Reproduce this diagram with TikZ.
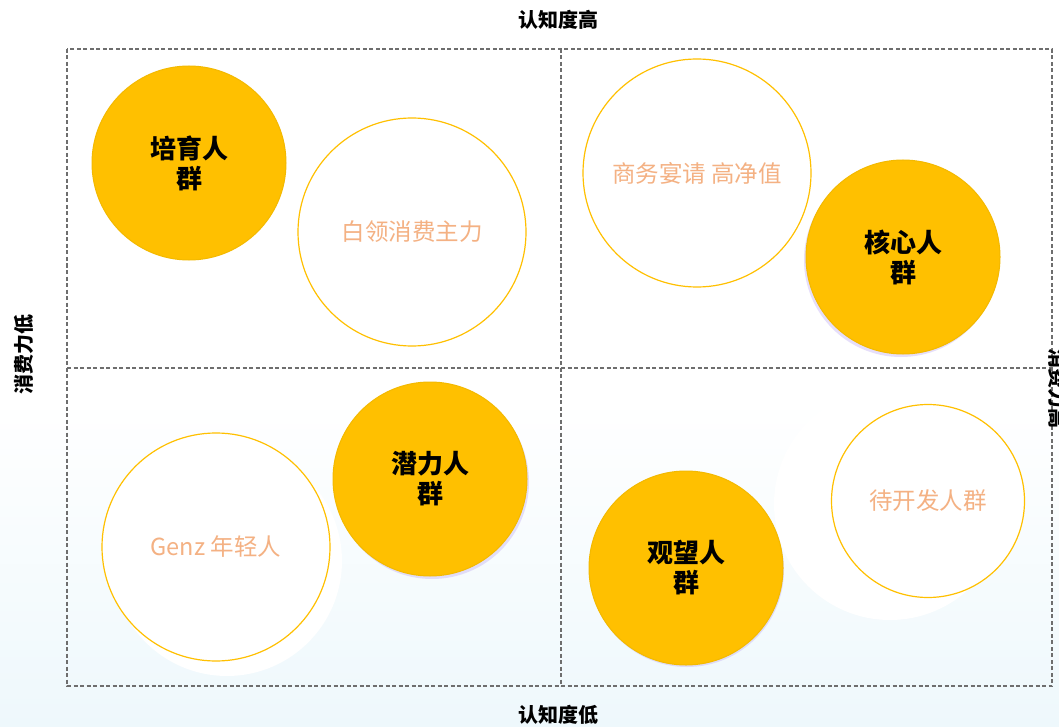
\documentclass[tikz,border=0pt]{standalone}
\usepackage{fontspec}
\setmainfont{Noto Sans CJK SC}
\usetikzlibrary{shadings}
\definecolor{gold}{HTML}{FFC000}
\definecolor{goldedge}{HTML}{F3B900}
\definecolor{peach}{HTML}{F4B183}
\definecolor{bgblue}{HTML}{EEF8FC}
\definecolor{dashgray}{HTML}{6E6E6E}
\definecolor{lav}{HTML}{C8B8F4}
\tikzset{
  core/.style={circle, fill=gold, draw=goldedge, line width=1pt, minimum size=194pt, inner sep=0pt,
    align=center, font=\fontsize{26}{30}\selectfont\bfseries, text=black},
  ring/.style={circle, fill=white, draw=gold, line width=1.2pt, minimum size=#1, inner sep=0pt,
    align=center, font=\fontsize{23.5}{28}\selectfont, text=peach},
  ring/.default=228pt,
  halo/.style={circle, fill=white, minimum size=#1, inner sep=0pt},
  lavshadow/.style={circle, fill=lav, fill opacity=0.45, minimum size=194pt, inner sep=0pt},
  axislabel/.style={font=\fontsize{20}{22}\selectfont\bfseries, text=black, inner sep=0pt},
  grid/.style={draw=dashgray, line width=1.5pt, dash pattern=on 4pt off 2.5pt}
}
\begin{document}
\begin{tikzpicture}[x=1pt,y=-1pt]
\useasboundingbox (0,0) rectangle (1059,727);
\shade[top color=white, middle color=white, bottom color=bgblue] (0,0) rectangle (1059,727);
\shade[top color=white, bottom color=bgblue] (0,400) rectangle (1059,727);
\fill[white] (0,0) rectangle (1059,400);
% quadrant frame
\coordinate (tl) at (67,49);
\coordinate (br) at (1052,686);
\coordinate (tm) at (561,49);
\coordinate (bm) at (561,686);
\coordinate (lm) at (67,368);
\coordinate (rm) at (1052,368);
\draw[grid] (tl) rectangle (br);
\draw[grid] (tm) -- (bm);
\draw[grid] (lm) -- (rm);
% axis labels
\node[axislabel] (top) at (558,20) {认知度高};
\node[axislabel] (bottom) at (558,715) {认知度低};
\node[axislabel, rotate=90] (left) at (24,354) {消费力低};
\node[axislabel, rotate=-90] (right) at (1058,388) {消费力高};
% white halos behind outline circles
\node[halo=230pt] (genzhalo) at (227,561) {};
\node[halo=232pt] (dkfhalo) at (890,504) {};
% lavender shadows
\node[lavshadow] (hxsh) at (901,260) {};
\node[lavshadow] (qlsh) at (432,482) {};
\node[lavshadow] (gwsh) at (687,570) {};
% circles
\node[core] (py) at (189,163) {培育人\\群};
\node[ring] (bl) at (412,232) {白领消费主力};
\node[ring] (sw) at (697,173) {商务宴请 高净值};
\node[core] (hx) at (903,257) {核心人\\群};
\node[core] (ql) at (430,479) {潜力人\\群};
\node[ring] (gz) at (216,547) {Genz 年轻人};
\node[core] (gw) at (686,568) {观望人\\群};
\node[ring=193pt] (dkf) at (928,501) {待开发人群};
\end{tikzpicture}
\end{document}
